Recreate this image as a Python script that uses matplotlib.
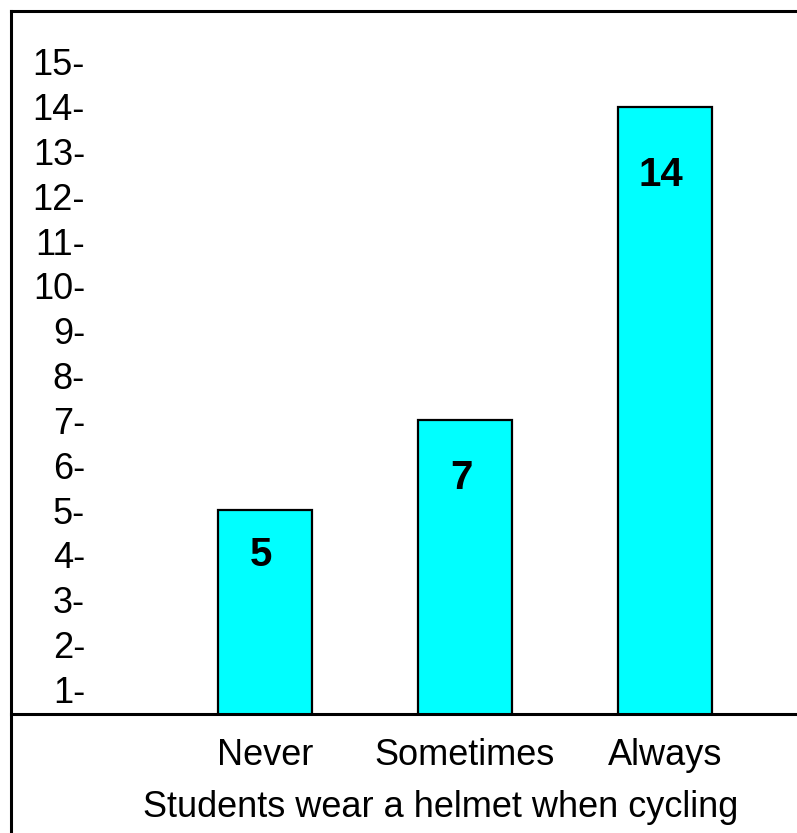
import matplotlib
matplotlib.use("Agg")
import matplotlib.pyplot as plt
from matplotlib.lines import Line2D

plt.rcParams['font.family'] = ['Liberation Sans', 'DejaVu Sans']

categories = ["Never", "Sometimes", "Always"]
values = [5, 7, 14]
y_ticks = list(range(1, 16))
y_tick_labels = [f"{t}-" for t in y_ticks]
x_title = "Students wear a helmet when cycling"

W, H = 797, 833
fig = plt.figure(figsize=(W / 100, H / 100), dpi=100)

def fx(px):
    return px / W

def fy(py):
    return 1 - py / H

ax = fig.add_axes([fx(11), fy(714), fx(797) - fx(11), fy(11) - fy(714)])

pos = list(range(len(categories)))
bars = ax.bar(pos, values, width=0.47, color="#00FFFF", edgecolor="black",
              linewidth=1.6, zorder=2)

# value labels inside the bars
label_offsets_px = [45, 58, 68]
for b, v, off in zip(bars, values, label_offsets_px):
    ax.annotate(str(v), (b.get_x() + b.get_width() / 2 - 0.02, v),
                xytext=(0, -off * 0.72), textcoords="offset points",
                ha="center", va="center", fontsize=29, fontweight="bold")

ax.set_xlim(-1.27, 2.66)
ax.set_ylim(0.4515, 16.13)

ax.set_yticks(y_ticks)
ax.set_yticklabels(y_tick_labels, fontsize=26)
ax.tick_params(axis="y", length=0, pad=-53.3)

ax.set_xticks(pos)
ax.set_xticklabels(categories, fontsize=26)
ax.tick_params(axis="x", length=0, pad=17)

for s in ["left", "top", "right"]:
    ax.spines[s].set_visible(False)
ax.spines["bottom"].set_linewidth(2.2)

# outer border (left and top visible)
fig.add_artist(Line2D([fx(11), fx(11)], [0, fy(11)], color="black", lw=2.2,
                      transform=fig.transFigure))
fig.add_artist(Line2D([fx(11), 1], [fy(11), fy(11)], color="black", lw=2.2,
                      transform=fig.transFigure))

fig.text(fx(441), fy(817), x_title, ha="center", va="baseline", fontsize=26)

fig.savefig("out.png", dpi=100)
